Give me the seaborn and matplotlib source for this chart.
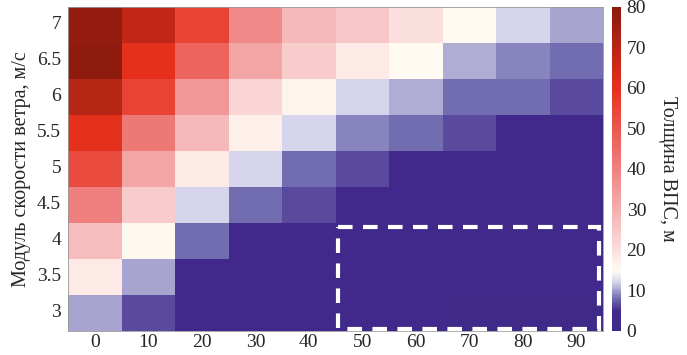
import numpy as np
import pandas as pd
import matplotlib
matplotlib.use("Agg")
import matplotlib.pyplot as plt
import seaborn as sns
from matplotlib.colors import LinearSegmentedColormap
from matplotlib.patches import Rectangle

angles = [0, 10, 20, 30, 40, 50, 60, 70, 80, 90]
speeds = ["7", "6.5", "6", "5.5", "5", "4.5", "4", "3.5", "3"]

row_7 = [78, 68, 55, 38, 28, 25, 20, 15, 12, 10]
row_6_5 = [79, 60, 47, 32, 24, 18, 15, 10.5, 9, 8]
row_6 = [70, 55, 35, 22, 16, 12, 10.5, 8, 8, 6.5]
row_5_5 = [60, 42, 28, 17, 12, 9, 8, 6.5, 3, 3]
row_5 = [53, 32, 18, 12, 8, 6.5, 4, 3, 3, 3]
row_4_5 = [40, 24, 12, 8, 6.5, 4, 3, 3, 3, 3]
row_4 = [27, 15.5, 8, 3, 3, 3, 3, 3, 3, 3]
row_3_5 = [18, 10, 3, 3, 3, 3, 3, 3, 3, 3]
row_3 = [10, 6.5, 2.5, 2.5, 2.5, 2.5, 2.5, 1, 1, 1]

cb_ticks = [0, 10, 20, 30, 40, 50, 60, 70, 80]

data = pd.DataFrame([row_7, row_6_5, row_6, row_5_5, row_5, row_4_5, row_4, row_3_5, row_3],
                    index=speeds, columns=angles)

cmap = LinearSegmentedColormap.from_list("vps", [
    (0.0, "#3e2a8a"),
    (0.06, "#41298b"),
    (0.10, "#7470b2"),
    (0.15, "#d8d7ec"),
    (0.185, "#fffbf3"),
    (0.25, "#fbdede"),
    (0.50, "#ef8080"),
    (0.75, "#e6301c"),
    (1.0, "#8a1a0c"),
])

sns.set_theme(style="white")
plt.rcParams['font.family'] = ['Liberation Serif', 'DejaVu Serif']
plt.rcParams['font.size'] = 13

fig = plt.figure(figsize=(6.87, 3.55), dpi=100)
ax = fig.add_axes([0.099, 0.068, 0.779, 0.913])
cax = fig.add_axes([0.891, 0.068, 0.013, 0.913])

sns.heatmap(data, ax=ax, cmap=cmap, vmin=0, vmax=80, cbar_ax=cax,
            cbar_kws={"ticks": cb_ticks})

ax.set_yticklabels(speeds, rotation=0, fontsize=14)
ax.set_xticklabels([str(a) for a in angles], rotation=0, fontsize=14)
ax.set_ylabel("Модуль скорости ветра, м/с", fontsize=14.5, labelpad=4)
ax.set_xlabel("")
ax.tick_params(axis="x", pad=2)
ax.tick_params(axis="y", pad=5)
ax.tick_params(axis="both", direction="in", length=3, color="#999999",
               top=True, right=True)
for s in ax.spines.values():
    s.set_visible(True)
    s.set_color("#999999")
    s.set_linewidth(0.6)

ax.add_patch(Rectangle((5.05, 6.12), 4.87, 2.84, fill=False, edgecolor="white",
                       linewidth=3, linestyle=(0, (3.5, 2.5)), zorder=5, clip_on=False))

cax.tick_params(labelsize=14, length=0, pad=4)
cax.set_ylabel("Толщина ВПС, м", rotation=270, fontsize=14.5, labelpad=22)

fig.savefig("out.png", dpi=100)
